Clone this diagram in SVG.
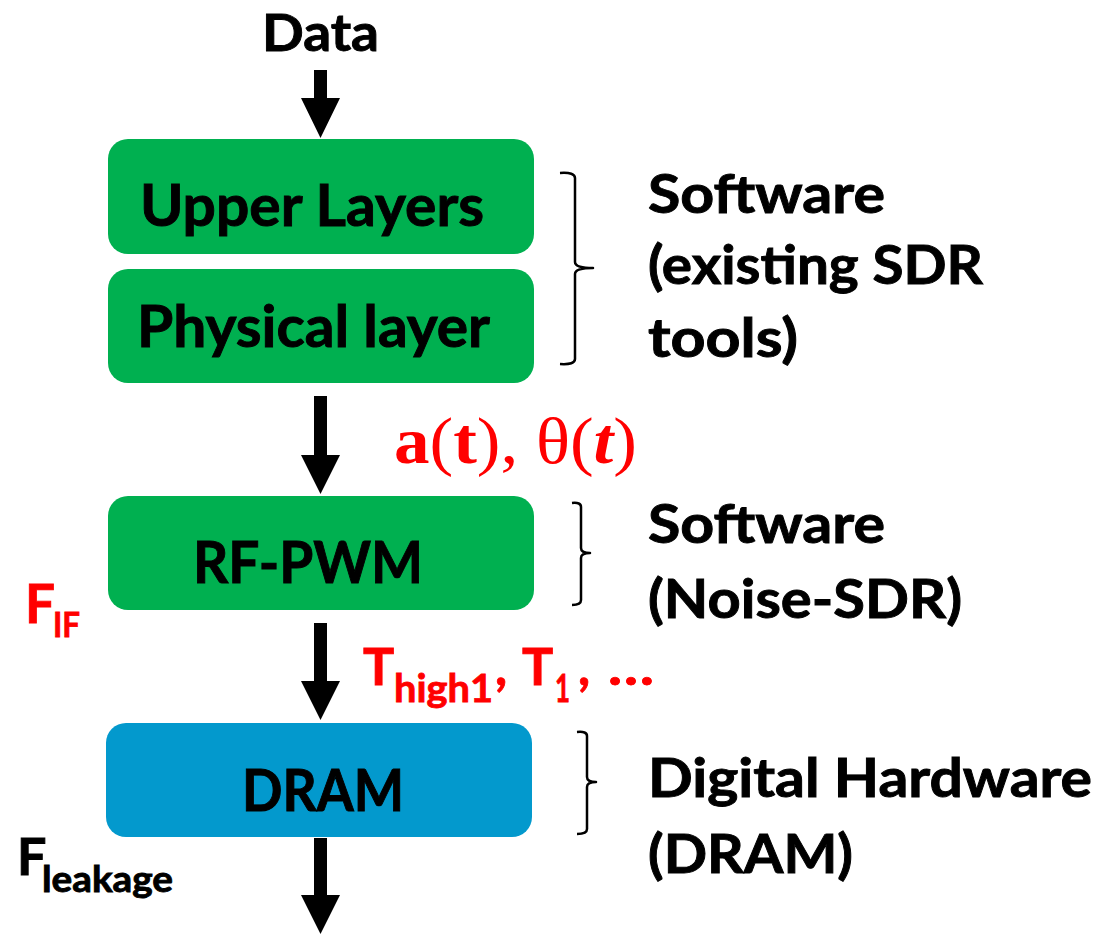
<svg xmlns="http://www.w3.org/2000/svg" width="1099" height="935" viewBox="0 0 1099 935">
  <style>
    .lbl { font-family: Lato, "Open Sans", "Liberation Sans", sans-serif; font-weight: 700; fill: #000; stroke: #000; stroke-width: 0.9; }
    .red { font-family: Lato, "Open Sans", "Liberation Sans", sans-serif; font-weight: 700; fill: #FF0000; stroke: #FF0000; stroke-width: 0.8; }
    .math { font-family: "Liberation Serif", "DejaVu Serif", serif; fill: #FF0000; }
    .green { fill: #00B050; }
    .blue { fill: #0399CD; }
    .arrow { fill: #000; }
    .brace { fill: none; stroke: #000; stroke-width: 2.5; stroke-linejoin: round; }
  </style>

  <!-- input label -->
  <g id="data">
    <text class="lbl" x="262" y="51" font-size="52" textLength="117" lengthAdjust="spacingAndGlyphs">Data</text>
  </g>

  <!-- processing blocks -->
  <g id="upper-layers">
    <rect class="green" x="108" y="139" width="426" height="115" rx="20"/>
    <text class="lbl" x="140" y="226" font-size="57" textLength="344" lengthAdjust="spacingAndGlyphs">Upper Layers</text>
  </g>
  <g id="physical-layer">
    <rect class="green" x="108" y="269" width="426" height="114" rx="20"/>
    <text class="lbl" x="137" y="347" font-size="57" textLength="353" lengthAdjust="spacingAndGlyphs">Physical layer</text>
  </g>
  <g id="rf-pwm">
    <rect class="green" x="108" y="496" width="426" height="114" rx="20"/>
    <text class="lbl" x="193" y="583" font-size="57" textLength="230" lengthAdjust="spacingAndGlyphs">RF-PWM</text>
  </g>
  <g id="dram">
    <rect class="blue" x="106" y="723" width="426" height="114" rx="20"/>
    <text class="lbl" x="242" y="811" font-size="57" textLength="162" lengthAdjust="spacingAndGlyphs">DRAM</text>
  </g>

  <!-- arrows between blocks -->
  <g id="connectors">
    <polygon class="arrow" points="314,70 327,70 327,98 340,98 320.5,138 301,98 314,98"/>
    <polygon class="arrow" points="314,396 327,396 327,455 340,455 320.5,494 301,455 314,455"/>
    <polygon class="arrow" points="314,623 327,623 327,681 340,681 320.5,720 301,681 314,681"/>
    <polygon class="arrow" points="314,838 327,838 327,895 340,895 320.5,934 301,895 314,895"/>
  </g>

  <!-- signal labels -->
  <g id="label-amp-phase">
    <text class="math" x="394" y="463" font-size="66" textLength="243" lengthAdjust="spacingAndGlyphs"><tspan font-weight="700">a</tspan>(<tspan font-weight="700">t</tspan>), θ(<tspan font-weight="700" font-style="italic">t</tspan>)</text>
  </g>
  <g id="label-timing">
    <text class="red" x="363" y="685" font-size="52">T</text>
    <text class="red" x="394" y="702" font-size="39" textLength="99" lengthAdjust="spacingAndGlyphs">high1</text>
    <text class="red" x="495" y="685" font-size="52">,</text>
    <text class="red" x="522" y="685" font-size="52">T</text>
    <text class="red" x="555" y="702" font-size="38" textLength="15" lengthAdjust="spacingAndGlyphs">1</text>
    <text class="red" x="578" y="685" font-size="52">,</text>
    <text class="red" x="608" y="685" font-size="52" textLength="46" lengthAdjust="spacingAndGlyphs">…</text>
  </g>
  <g id="label-fif">
    <text class="red" x="25" y="623" font-size="53">F</text>
    <text class="red" x="53" y="637" font-size="34" textLength="27" lengthAdjust="spacingAndGlyphs">IF</text>
  </g>
  <g id="label-fleakage">
    <text class="lbl" x="17" y="875" font-size="52">F</text>
    <text class="lbl" x="42" y="892" font-size="37" textLength="131" lengthAdjust="spacingAndGlyphs">leakage</text>
  </g>

  <!-- braces -->
  <g id="braces">
    <path class="brace" d="M560,173 Q575,172 575,178 L575,262 Q575,268 593,268 Q575,268 575,274 L575,359 Q575,365 560,364"/>
    <path class="brace" d="M572,503 Q581,502 581,507 L581,548 Q581,553 590,553 Q581,553 581,558 L581,600 Q581,605 572,605"/>
    <path class="brace" d="M577,732 Q587,731 587,736 L587,777 Q587,782 596,782 Q587,782 587,787 L587,829 Q587,834 577,834"/>
  </g>

  <!-- layer descriptions -->
  <g id="desc-software-sdr">
    <text class="lbl" x="648" y="213" font-size="53" textLength="237" lengthAdjust="spacingAndGlyphs">Software</text>
    <text class="lbl" x="648" y="284" font-size="53" textLength="335" lengthAdjust="spacingAndGlyphs">(existing SDR</text>
    <text class="lbl" x="648" y="357" font-size="53" textLength="150" lengthAdjust="spacingAndGlyphs">tools)</text>
  </g>
  <g id="desc-software-noise">
    <text class="lbl" x="648" y="543" font-size="53" textLength="237" lengthAdjust="spacingAndGlyphs">Software</text>
    <text class="lbl" x="648" y="618" font-size="53" textLength="314" lengthAdjust="spacingAndGlyphs">(Noise-SDR)</text>
  </g>
  <g id="desc-hardware">
    <text class="lbl" x="648" y="797" font-size="53" textLength="444" lengthAdjust="spacingAndGlyphs">Digital Hardware</text>
    <text class="lbl" x="648" y="873" font-size="53" textLength="205" lengthAdjust="spacingAndGlyphs">(DRAM)</text>
  </g>
</svg>
